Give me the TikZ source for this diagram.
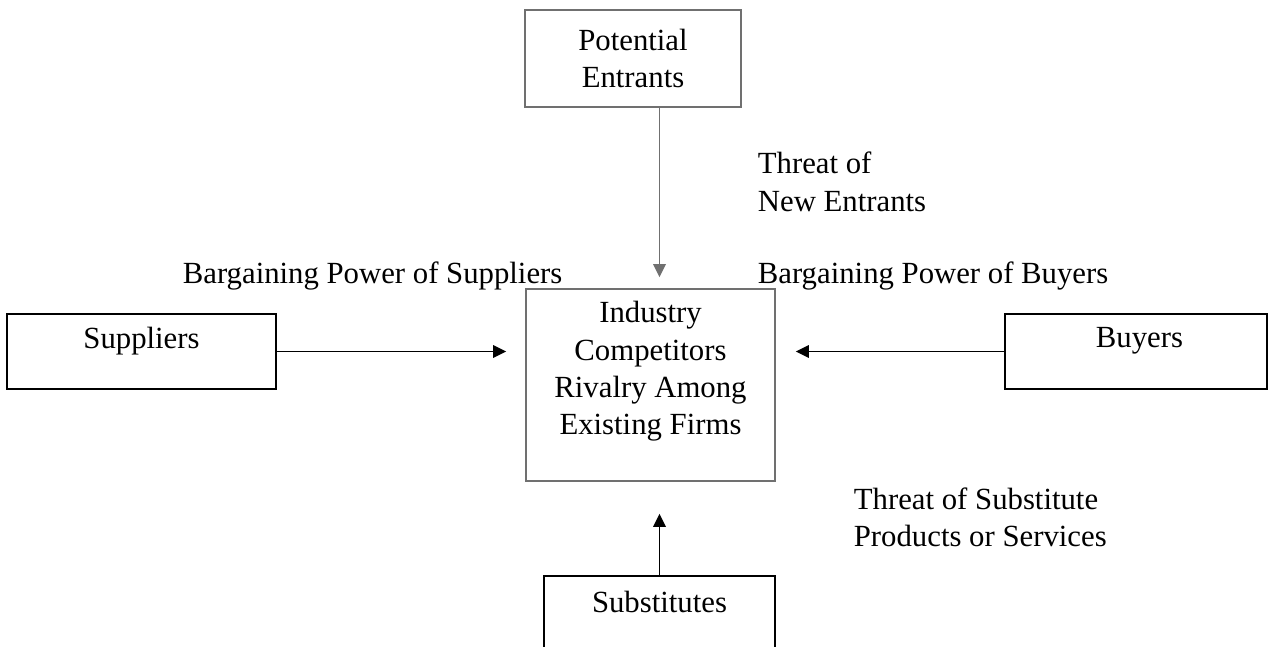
\documentclass[tikz,border=0pt]{standalone}
\usepackage{fontspec}
\setmainfont{Liberation Serif}
\usetikzlibrary{arrows.meta}
\definecolor{linegray}{RGB}{112,112,112}

\begin{document}
\begin{tikzpicture}[>={Triangle[length=0.26cm,width=0.25cm]},line width=1pt,
                font=\fontsize{17.5}{21.3}\selectfont,
                box node/.style={rectangle,draw,inner sep=0pt},
                gray node/.style={box node,draw=linegray},
                note node/.style={anchor=west,align=left,inner sep=0pt}]

  \useasboundingbox (0,0) rectangle (25.5,12.94);
  \clip (0,0) rectangle (25.5,12.94);

  % the five forces
  \node[gray node,minimum width=4.32cm,minimum height=1.94cm,align=center]
    (ent) at (12.66,11.77) {Potential\\Entrants};
  \node[gray node,minimum width=4.98cm,minimum height=3.84cm,
    label={[align=center,yshift=0.27cm]center:Industry\\Competitors\\Rivalry Among\\Existing Firms}]
    (ind) at (13.01,5.24) {};
  \node[box node,minimum width=5.38cm,minimum height=1.5cm,
    label={[yshift=0.21cm]center:Suppliers}] (sup) at (2.83,5.91) {};
  \node[box node,minimum width=5.24cm,minimum height=1.5cm,
    label={[xshift=0.07cm,yshift=0.21cm]center:Buyers}] (buy) at (22.72,5.91) {};
  \node[box node,minimum width=4.62cm,minimum height=1.5cm,
    label={[yshift=0.23cm]center:Substitutes}] (sub) at (13.19,0.67) {};

  % captions
  \node[note node] (newthr) at (15.14,9.30) {Threat of\\New Entrants};
  \node[note node] (buypow) at (15.14,7.43) {Bargaining Power of Buyers};
  \node[note node] (suppow) at (3.64,7.43) {Bargaining Power of Suppliers};
  \node[note node] (subthr) at (17.06,2.59) {Threat of Substitute\\Products or Services};

  \draw[->,linegray,shorten >=0.22cm] (ent.south -| sub.north) -- (ind.north -| sub.north);
  \draw[->,shorten >=0.38cm] (sup.east) -- (sup.east -| ind.west);
  \draw[->,shorten >=0.40cm] (buy.west) -- (buy.west -| ind.east);
  \draw[->,shorten >=0.64cm] (sub.north) -- (sub.north |- ind.south);
\end{tikzpicture}
\end{document}
